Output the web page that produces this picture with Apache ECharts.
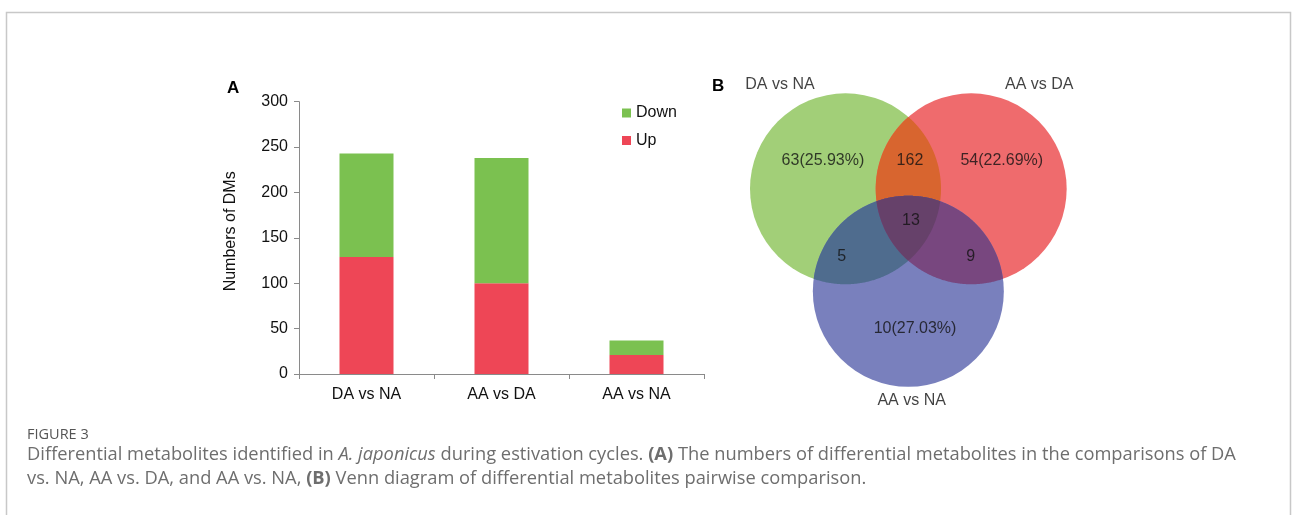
<!DOCTYPE html>
<html>
<head>
<meta charset="utf-8">
<script src="https://cdn.jsdelivr.net/npm/echarts@6/dist/echarts.min.js"></script>
<style>
  html, body { margin: 0; padding: 0; background: #ffffff; }
  #main { width: 1292px; height: 515px; }
</style>
</head>
<body>
<div id="main"></div>
<script>
// ---- Panel A: numbers of differential metabolites (stacked bars) ----
const categories = ['DA vs NA', 'AA vs DA', 'AA vs NA'];
const upValues = [129, 100, 21];
const downValues = [114, 138, 16];
const yAxisMax = 300;
const yAxisStep = 50;

// ---- Panel B: Venn diagram counts ----
const vennSetNames = ['DA vs NA', 'AA vs DA', 'AA vs NA'];
const vennOnlyCounts = [63, 54, 10];          // metabolites unique to each comparison
const vennPairKeys = [[0, 1], [0, 2], [1, 2]];
const vennPairCounts = [162, 5, 9];           // shared by exactly two comparisons
const vennTripleCount = 13;                   // shared by all three

// ---- Venn layout (unit circles) and colours ----
const circleCenters = [[0, 0], [1.316, 0], [0.658, -1.073]];
const circleRadius = 1;
const circleColors = ['#A2CF78', '#EF6B6D', '#7980BD'];
const pairColors = ['#D8652F', '#4F6C8E', '#78477F'];
const tripleColor = '#66416A';
const onlyLabelAnchors = [[-0.236, 0.294], [1.636, 0.294], [0.728, -1.461]];
const pairLabelAnchors = [[0.675, 0.294], [-0.040, -0.711], [1.311, -0.711]];
const tripleLabelAnchor = [0.686, -0.337];
const setNameAnchors = [[-0.686, 1.087], [2.029, 1.087], [0.693, -2.219]];

const FONT = 'Arial, "Liberation Sans", Helvetica, sans-serif';
const CAPTION_FONT = '"Open Sans", sans-serif';
const TEXT = '#111111';
const CAPTION = '#6e6e6e';

// total of each comparison = unique + shared regions
const setTotals = vennOnlyCounts.map((n, i) => {
  let t = n + vennTripleCount;
  vennPairKeys.forEach((k, j) => { if (k.includes(i)) t += vennPairCounts[j]; });
  return t;
});

// region polygon: intersection of the given circles (convex), in pixels
function intersectionPolygon(circles) {
  const pts = [];
  const steps = 720;
  circles.forEach((c, i) => {
    for (let s = 0; s < steps; s++) {
      const a = (s / steps) * Math.PI * 2;
      const x = c.cx + c.r * Math.cos(a);
      const y = c.cy + c.r * Math.sin(a);
      let inside = true;
      circles.forEach((o, j) => {
        if (j !== i && Math.hypot(x - o.cx, y - o.cy) > o.r + 0.01) inside = false;
      });
      if (inside) pts.push([x, y]);
    }
  });
  const mx = pts.reduce((s, p) => s + p[0], 0) / pts.length;
  const my = pts.reduce((s, p) => s + p[1], 0) / pts.length;
  pts.sort((p, q) => Math.atan2(p[1] - my, p[0] - mx) - Math.atan2(q[1] - my, q[0] - mx));
  return pts;
}

function pixelCircles(api) {
  return circleCenters.map(c => {
    const p = api.coord(c);
    const r = api.size([circleRadius, 0])[0];
    return { cx: p[0], cy: p[1], r: r };
  });
}

const overlapSets = vennPairKeys.map((k, j) => ({ keys: k, color: pairColors[j] }))
  .concat([{ keys: [0, 1, 2], color: tripleColor }]);

const vennLabels = []
  .concat(vennOnlyCounts.map((n, i) => ({
    value: onlyLabelAnchors[i],
    name: n + '(' + (n / setTotals[i] * 100).toFixed(2) + '%)'
  })))
  .concat(vennPairCounts.map((n, j) => ({ value: pairLabelAnchors[j], name: String(n) })))
  .concat([{ value: tripleLabelAnchor, name: String(vennTripleCount) }])
  .concat(vennSetNames.map((s, i) => ({ value: setNameAnchors[i], name: s })));

const chart = echarts.init(document.getElementById('main'), null, { renderer: 'canvas' });

const option = {
  backgroundColor: '#ffffff',
  animation: false,
  textStyle: { fontFamily: FONT },
  grid: [
    { left: 299, top: 101.7, width: 405, height: 272.3, containLabel: false },
    { left: 740.45, top: 74.2, width: 334.25, height: 334.25, containLabel: false }
  ],
  legend: {
    data: ['Down', 'Up'],
    orient: 'vertical',
    left: 617,
    top: 100,
    icon: 'rect',
    itemWidth: 9,
    itemHeight: 9,
    itemGap: 11.5,
    textStyle: { fontFamily: FONT, fontSize: 16, color: TEXT },
    selectedMode: false
  },
  xAxis: [
    {
      gridIndex: 0,
      type: 'category',
      data: categories,
      axisLine: { lineStyle: { color: '#8a8a8a', width: 1 } },
      axisTick: { show: true, length: 5, lineStyle: { color: '#8a8a8a' } },
      axisLabel: { color: TEXT, fontSize: 16, fontFamily: FONT, margin: 13 }
    },
    { gridIndex: 1, type: 'value', min: -1.1, max: 2.4, show: false }
  ],
  yAxis: [
    {
      gridIndex: 0,
      type: 'value',
      min: 0,
      max: yAxisMax,
      interval: yAxisStep,
      name: 'Numbers of DMs',
      nameLocation: 'middle',
      nameGap: 60,
      nameTextStyle: { color: TEXT, fontSize: 16, fontFamily: FONT, padding: [0, 0, 0, 13] },
      axisLine: { show: true, lineStyle: { color: '#8a8a8a', width: 1 } },
      axisTick: { show: true, length: 5, lineStyle: { color: '#8a8a8a' } },
      axisLabel: { color: TEXT, fontSize: 16, fontFamily: FONT, margin: 11 },
      splitLine: { show: false }
    },
    { gridIndex: 1, type: 'value', min: -2.3, max: 1.2, show: false }
  ],
  series: [
    {
      name: 'Up',
      type: 'bar',
      stack: 'dms',
      xAxisIndex: 0, yAxisIndex: 0,
      barWidth: 54,
      itemStyle: { color: '#EE4656' },
      data: upValues
    },
    {
      name: 'Down',
      type: 'bar',
      stack: 'dms',
      xAxisIndex: 0, yAxisIndex: 0,
      barWidth: 54,
      itemStyle: { color: '#7BC150' },
      data: downValues
    },
    {
      name: 'vennCircles',
      type: 'custom',
      coordinateSystem: 'cartesian2d',
      xAxisIndex: 1, yAxisIndex: 1,
      clip: false,
      silent: true,
      data: circleCenters.map((c, i) => [c[0], c[1], i]),
      renderItem: function (params, api) {
        const c = pixelCircles(api)[params.dataIndex];
        return {
          type: 'circle',
          shape: { cx: c.cx, cy: c.cy, r: c.r },
          style: { fill: circleColors[params.dataIndex] }
        };
      },
      z: 2
    },
    {
      name: 'vennOverlaps',
      type: 'custom',
      coordinateSystem: 'cartesian2d',
      xAxisIndex: 1, yAxisIndex: 1,
      clip: false,
      silent: true,
      data: overlapSets.map((o, k) => [0, 0, k]),
      renderItem: function (params, api) {
        const all = pixelCircles(api);
        const set = overlapSets[params.dataIndex];
        const pts = intersectionPolygon(set.keys.map(i => all[i]));
        return {
          type: 'polygon',
          shape: { points: pts },
          style: { fill: set.color }
        };
      },
      z: 3
    },
    {
      name: 'vennLabels',
      type: 'scatter',
      xAxisIndex: 1, yAxisIndex: 1,
      symbolSize: 0,
      silent: true,
      z: 5,
      label: {
        show: true,
        position: 'inside',
        formatter: p => p.name,
        color: TEXT,
        fontSize: 16,
        fontFamily: FONT
      },
      data: vennLabels
    }
  ],
  graphic: [
    {
      type: 'rect',
      shape: { x: 6.5, y: 12.5, width: 1284, height: 520 },
      style: { fill: 'none', stroke: '#c8c8c8', lineWidth: 1.5 },
      silent: true
    },
    {
      type: 'text', x: 227, y: 80,
      style: { text: 'A', fontFamily: FONT, fontSize: 17, fontWeight: 'bold', fill: '#000' }
    },
    {
      type: 'text', x: 712, y: 78,
      style: { text: 'B', fontFamily: FONT, fontSize: 17, fontWeight: 'bold', fill: '#000' }
    },
    {
      type: 'text', x: 27, y: 427,
      style: { text: 'FIGURE 3', fontFamily: CAPTION_FONT, fontSize: 14.5, fill: '#555' }
    },
    {
      type: 'text', x: 27, y: 446,
      style: {
        text: 'Differential metabolites identified in {i|A. japonicus} during estivation cycles. {b|(A)} The numbers of differential metabolites in the comparisons of DA',
        fontFamily: CAPTION_FONT, fontSize: 18.3, fill: CAPTION,
        rich: {
          i: { fontStyle: 'italic', fontFamily: CAPTION_FONT, fontSize: 18.3, fill: CAPTION },
          b: { fontWeight: 'bold', fontFamily: CAPTION_FONT, fontSize: 18.3, fill: CAPTION }
        }
      }
    },
    {
      type: 'text', x: 27, y: 470,
      style: {
        text: 'vs. NA, AA vs. DA, and AA vs. NA, {b|(B)} Venn diagram of differential metabolites pairwise comparison.',
        fontFamily: CAPTION_FONT, fontSize: 18.3, fill: CAPTION,
        rich: {
          b: { fontWeight: 'bold', fontFamily: CAPTION_FONT, fontSize: 18.3, fill: CAPTION }
        }
      }
    }
  ]
};

chart.setOption(option);
</script>
</body>
</html>
